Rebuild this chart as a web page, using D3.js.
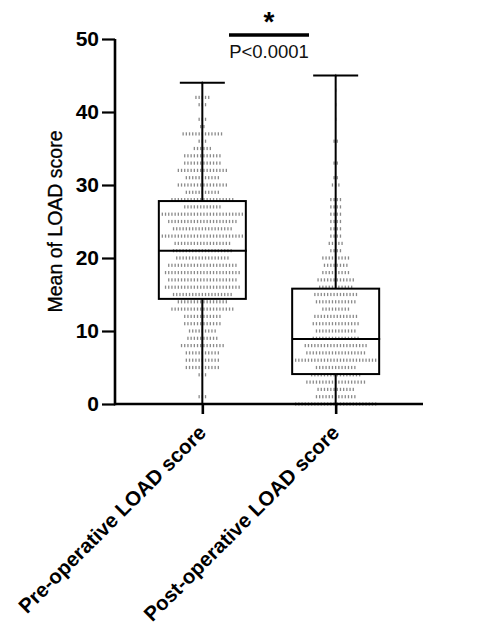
<!DOCTYPE html>
<html>
<head>
<meta charset="utf-8">
<script src="https://cdn.jsdelivr.net/npm/d3@7"></script>
<style>
  html, body { margin: 0; padding: 0; background: #fff; }
  svg { display: block; }
  text { font-family: "Liberation Sans", Arial, sans-serif; }
</style>
</head>
<body>
<svg id="chart" width="486" height="629"></svg>
<script>
// Groups shown on the x axis
const categories = ["Pre-operative LOAD score", "Post-operative LOAD score"];

// Individual scores, stacked as rows: score value and number of patients at it
const preScores  = [44, 42, 41, 39, 38, 37, 36, 35, 34, 33, 32, 31, 30, 29, 28, 27, 26, 25, 24, 23, 22, 21, 20, 19, 18, 17, 16, 15, 14, 13, 12, 11, 10, 9, 8, 7, 6, 5, 4, 1];
const preCounts  = [ 1,  5,  3,  3,  2, 13,  3,  6, 12, 12, 16, 11, 16, 11, 20, 12, 26, 22, 19, 26, 18, 19, 17, 22, 24, 22, 24, 19, 16, 20, 12, 12,  9, 10, 14, 11, 11, 11, 3, 3];
const postScores = [45, 43, 41, 39, 36, 33, 31, 30, 28, 27, 26, 25, 24, 23, 22, 21, 20, 19, 18, 17, 16, 15, 14, 13, 12, 11, 10, 9, 8, 7, 6, 5, 4, 3, 2, 1, 0];
const postCounts = [ 1,  1,  1,  1,  2,  2,  2,  3,  4,  4,  4,  4,  4,  4,  5,  4,  9,  8,  9, 12, 11, 14, 13,  9, 14, 15, 13, 15, 20, 19, 26, 13, 16, 19, 12, 13, 26];

// Box-and-whisker summaries: min, Q1, median, Q3, max
const preBox  = [0, 14.4, 21, 27.8, 44];
const postBox = [0, 4.1, 8.9, 15.8, 45];

// Axis ticks and annotation text
const yTicks = [0, 10, 20, 30, 40, 50];
const yTitle = "Mean of LOAD score";
const sigMark = "*";
const pText = "P<0.0001";

const svg = d3.select("#chart");

const y = d3.scaleLinear().domain([0, 50]).range([404, 39]);
const x = d3.scalePoint().domain(categories).range([115, 423]).padding(0.655);

const groups = [
  { name: categories[0], scores: preScores, counts: preCounts, box: preBox },
  { name: categories[1], scores: postScores, counts: postCounts, box: postBox }
];

const dotGap = 3.2;
const boxW = 87, capW = 45;

// Scatter of individual scores, centred in each row
const dotLayer = svg.append("g");
groups.forEach(g => {
  const pts = [];
  g.scores.forEach((v, r) => {
    const n = g.counts[r];
    for (let i = 0; i < n; i++) pts.push({ v, off: (i - (n - 1) / 2) * dotGap });
  });
  dotLayer.selectAll(null).data(pts).enter().append("rect")
    .attr("x", d => x(g.name) + d.off - 0.65)
    .attr("y", d => y(d.v) - 1.6)
    .attr("width", 1.3)
    .attr("height", 3.2)
    .attr("fill", "#8a8a8a");
});

// Boxes and whiskers
const boxLayer = svg.append("g").attr("stroke", "#000").attr("fill", "none").attr("stroke-width", 2);
groups.forEach(g => {
  const cx = x(g.name);
  const [mn, q1, med, q3, mx] = g.box;
  boxLayer.append("rect")
    .attr("x", cx - boxW / 2).attr("y", y(q3))
    .attr("width", boxW).attr("height", y(q1) - y(q3));
  boxLayer.append("line").attr("x1", cx - boxW / 2).attr("x2", cx + boxW / 2 + 1)
    .attr("y1", y(med)).attr("y2", y(med));
  boxLayer.append("line").attr("x1", cx).attr("x2", cx).attr("y1", y(q3)).attr("y2", y(mx));
  boxLayer.append("line").attr("x1", cx).attr("x2", cx).attr("y1", y(q1)).attr("y2", y(mn));
  boxLayer.append("line").attr("x1", cx - capW / 2).attr("x2", cx + capW / 2).attr("y1", y(mx)).attr("y2", y(mx));
  boxLayer.append("line").attr("x1", cx - capW / 2).attr("x2", cx + capW / 2).attr("y1", y(mn)).attr("y2", y(mn));
});

// Y axis
const yAxis = svg.append("g")
  .attr("transform", "translate(115,0)")
  .call(d3.axisLeft(y).tickValues(yTicks).tickSize(13).tickSizeOuter(0).tickPadding(3));
yAxis.select(".domain").attr("stroke-width", 2.6).attr("d", `M0,${y(50)}V${y(0) + 1.3}`);
yAxis.selectAll(".tick line").attr("stroke-width", 2.2);
yAxis.selectAll(".tick text")
  .attr("font-size", 21).attr("font-weight", "bold").attr("fill", "#000")
  .attr("font-family", "Liberation Sans, Arial, sans-serif");

// X axis
const xAxis = svg.append("g")
  .attr("transform", `translate(0,${y(0)})`)
  .call(d3.axisBottom(x).tickSize(10).tickSizeOuter(0).tickFormat(""));
xAxis.select(".domain").attr("stroke-width", 2.6).attr("d", "M114,0H423");
xAxis.selectAll(".tick line").attr("stroke-width", 2.6);

// Rotated category labels
svg.append("g").selectAll("text").data(categories).enter().append("text")
  .attr("transform", d => `translate(${x(d) + 5},${y(0) + 30}) rotate(-45)`)
  .attr("text-anchor", "end")
  .attr("font-size", 20.5).attr("font-weight", "bold")
  .attr("fill", "#000")
  .text(d => d);

// Y axis title
svg.append("text")
  .attr("transform", `translate(62,${(y(0) + y(50)) / 2}) rotate(-90)`)
  .attr("text-anchor", "middle")
  .attr("font-size", 19.5)
  .attr("fill", "#000")
  .attr("stroke", "#000").attr("stroke-width", 0.3)
  .text(yTitle);

// Significance bracket
const mid = (x(categories[0]) + x(categories[1])) / 2;
svg.append("line")
  .attr("x1", mid - 40).attr("x2", mid + 40)
  .attr("y1", 35).attr("y2", 35)
  .attr("stroke", "#000").attr("stroke-width", 3.5);
svg.append("text")
  .attr("x", mid).attr("y", 31)
  .attr("text-anchor", "middle")
  .attr("font-size", 28).attr("font-weight", "bold")
  .text(sigMark);
svg.append("text")
  .attr("x", mid).attr("y", 58)
  .attr("text-anchor", "middle")
  .attr("font-size", 18.5)
  .attr("fill", "#111")
  .text(pText);
</script>
</body>
</html>
